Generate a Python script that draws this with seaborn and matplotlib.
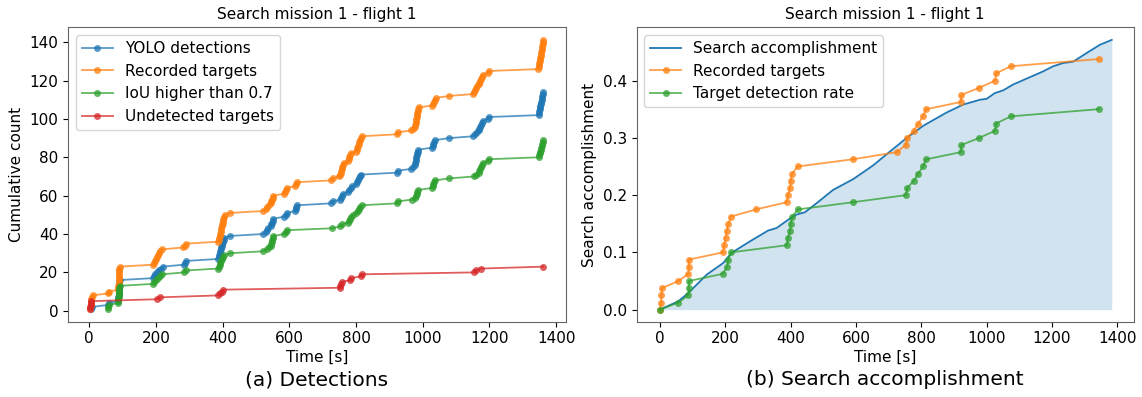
import numpy as np
import pandas as pd
import matplotlib.pyplot as plt
import seaborn as sns

# (a) Detections: time [s] of every counted event (cumulative count = 1..N)
yolo_t = [4, 8, 55, 58,
          86, 87, 87, 88, 88, 88, 89, 89, 89, 90, 90, 91,
          190, 194, 198, 203, 208, 214, 220, 283, 287, 291, 386,
          389, 390, 391, 393, 394, 396, 397, 399, 401, 403, 405, 422,
          520, 530, 533, 537, 544, 546, 548, 550, 552, 584, 589, 594,
          617, 619, 621, 624, 726, 730, 752, 755, 758, 761,
          776, 780, 784, 789, 800, 803, 806, 809, 812, 816,
          922, 925, 966, 971, 977, 978, 979, 980, 981, 982, 983, 985, 987,
          1027, 1030, 1032, 1035, 1038, 1079, 1152, 1157, 1162,
          1168, 1170, 1172, 1174, 1177, 1180, 1195, 1198,
          1348, 1349, 1350, 1351, 1352, 1353, 1354, 1355, 1357, 1358, 1359, 1360, 1362]
recorded_t = [3, 3, 4, 4, 5, 6, 8, 10, 55, 58,
              86, 87, 87, 88, 88, 88, 89, 89, 89, 90, 90, 90, 91,
              190, 193, 196, 199, 202, 205, 208, 212, 218, 282, 286, 291, 386,
              389, 390, 392, 393, 394, 395, 396, 397, 398, 400, 401, 402, 404, 406, 422,
              520, 530, 534, 538, 545, 546, 548, 550, 552, 583, 586, 589, 592,
              618, 621, 624, 726, 730, 750, 752, 754, 755, 757, 759, 761, 764,
              776, 778, 780, 782, 785, 800, 802, 804, 806, 808, 810, 812, 815, 818,
              922, 925, 965, 971, 977, 978, 979, 980, 981, 982, 983, 984, 985, 986, 988,
              1027, 1030, 1033, 1036, 1040, 1079, 1152, 1154, 1157, 1159, 1162,
              1168, 1170, 1172, 1174, 1177, 1180, 1195, 1198,
              1347, 1348, 1349, 1350, 1351, 1352, 1353, 1354, 1355, 1356, 1357, 1358,
              1359, 1360, 1361, 1362]
iou_t = [55, 57, 58, 86, 87, 87, 88, 88, 89, 89, 90, 90, 91,
         190, 195, 201, 207, 213, 219, 284, 290, 386,
         389, 391, 393, 396, 398, 401, 404, 422,
         520, 532, 538, 544, 545, 547, 548, 550, 552, 585, 590, 594,
         728, 753, 759, 776, 779, 782, 786, 790, 801, 805, 809, 813, 817,
         922, 925, 969, 978, 980, 982, 984, 987,
         1027, 1030, 1032, 1035, 1038, 1079, 1153, 1160,
         1168, 1170, 1172, 1174, 1177, 1180, 1195, 1198,
         1348, 1350, 1351, 1353, 1354, 1356, 1357, 1359, 1360, 1362]
undetected_t = [3, 3, 4, 4, 5, 202, 212, 387, 393, 397, 402,
                752, 753, 755, 757, 782, 786, 815, 818, 1154, 1160, 1174, 1362]

# (b) Search accomplishment
acc_t = [0, 56, 87, 143, 194, 219, 275, 331, 357, 393, 418, 444, 480, 530, 592,
         653, 704, 755, 806, 877, 928, 980, 1000, 1025, 1051, 1081, 1133, 1173,
         1204, 1234, 1265, 1306, 1347, 1383]
acc_v = [0, 0.0145, 0.029, 0.061, 0.0815, 0.099, 0.119, 0.138, 0.1425, 0.157,
         0.166, 0.170, 0.186, 0.209, 0.228, 0.252, 0.276, 0.2996, 0.321, 0.344,
         0.358, 0.3665, 0.368, 0.378, 0.383, 0.393, 0.406, 0.416, 0.425, 0.4305,
         0.433, 0.448, 0.4625, 0.471]
rec_t = [0, 4, 5, 6, 57, 87, 88, 89, 193, 197, 201, 205, 209, 218, 294,
         388, 392, 399, 400, 405, 422, 590, 725, 753, 757, 777, 791, 805, 815,
         921, 923, 978, 1026, 1029, 1074, 1343]
rec_v = [0, 0.0125, 0.025, 0.0375, 0.05, 0.0625, 0.075, 0.0875, 0.1, 0.1125,
         0.125, 0.1375, 0.15, 0.1625, 0.175, 0.1875, 0.2, 0.2125, 0.225, 0.2375,
         0.25, 0.2625, 0.275, 0.2875, 0.3, 0.3125, 0.325, 0.3375, 0.35, 0.3625,
         0.375, 0.3875, 0.4, 0.4125, 0.425, 0.4375]
tdr_t = [0, 57, 87, 88, 89, 192, 206, 209, 218, 388, 392, 399, 400, 405, 422,
         590, 753, 757, 777, 791, 805, 815, 921, 923, 978, 1026, 1029, 1074, 1343]
tdr_v = [0, 0.0125, 0.025, 0.0375, 0.05, 0.0625, 0.075, 0.0875, 0.1, 0.1125,
         0.125, 0.1375, 0.15, 0.1625, 0.175, 0.1875, 0.2, 0.2125, 0.225, 0.2375,
         0.25, 0.2625, 0.275, 0.2875, 0.3, 0.3125, 0.325, 0.3375, 0.35]

pal = sns.color_palette("tab10")
line_kw = dict(marker="o", markersize=5, markeredgewidth=0, linewidth=1.3,
               alpha=0.75, estimator=None, sort=False)

fig = plt.figure(figsize=(11.42, 3.97), dpi=100)
ax1 = fig.add_axes([0.0598, 0.1897, 0.4356, 0.7416])
ax2 = fig.add_axes([0.5575, 0.1897, 0.4352, 0.7416])

# Grafica (a)
series = [("YOLO detections", yolo_t, pal[0]),
          ("Recorded targets", recorded_t, pal[1]),
          ("IoU higher than 0.7", iou_t, pal[2]),
          ("Undetected targets", undetected_t, pal[3])]
for label, times, c in series:
    df = pd.DataFrame({"t": times, "n": np.arange(1, len(times) + 1)})
    sns.lineplot(data=df, x="t", y="n", ax=ax1, color=c, markeredgecolor=c,
                 label=label, **line_kw)

ax1.set_xlim(-63, 1429)
ax1.set_ylim(-5.7, 147.8)
ax1.set_xticks(range(0, 1401, 200))
ax1.set_yticks(range(0, 141, 20))
ax1.set_title("Search mission 1 - flight 1", fontsize=11)
ax1.set_xlabel("Time [s]", fontsize=11, labelpad=2.5)
ax1.set_ylabel("Cumulative count", fontsize=11)
ax1.legend(loc="upper left", fontsize=11)

# Grafica (b)
ax2.fill_between(acc_t, acc_v, color=pal[0], alpha=0.2, linewidth=0)
sns.lineplot(x=acc_t, y=acc_v, ax=ax2, color=pal[0], linewidth=1.3,
             estimator=None, sort=False, label="Search accomplishment")
sns.lineplot(x=rec_t, y=rec_v, ax=ax2, color=pal[1], markeredgecolor=pal[1],
             label="Recorded targets", **line_kw)
sns.lineplot(x=tdr_t, y=tdr_v, ax=ax2, color=pal[2], markeredgecolor=pal[2],
             label="Target detection rate", **line_kw)

ax2.set_xlim(-71, 1450)
ax2.set_ylim(-0.021, 0.493)
ax2.set_xticks(range(0, 1401, 200))
ax2.set_yticks([0.0, 0.1, 0.2, 0.3, 0.4])
ax2.set_title("Search mission 1 - flight 1", fontsize=11)
ax2.set_xlabel("Time [s]", fontsize=11, labelpad=2.5)
ax2.set_ylabel("Search accomplishment", fontsize=11)
ax2.legend(loc="upper left", fontsize=11)

for ax in (ax1, ax2):
    ax.tick_params(labelsize=11)
    for s in ax.spines.values():
        s.set_edgecolor("0.4")

fig.text(0.2776, 0.043, "(a) Detections", ha="center", va="center", fontsize=14.5)
fig.text(0.7751, 0.043, "(b) Search accomplishment", ha="center", va="center", fontsize=14.5)

fig.savefig("out.png", dpi=100)
